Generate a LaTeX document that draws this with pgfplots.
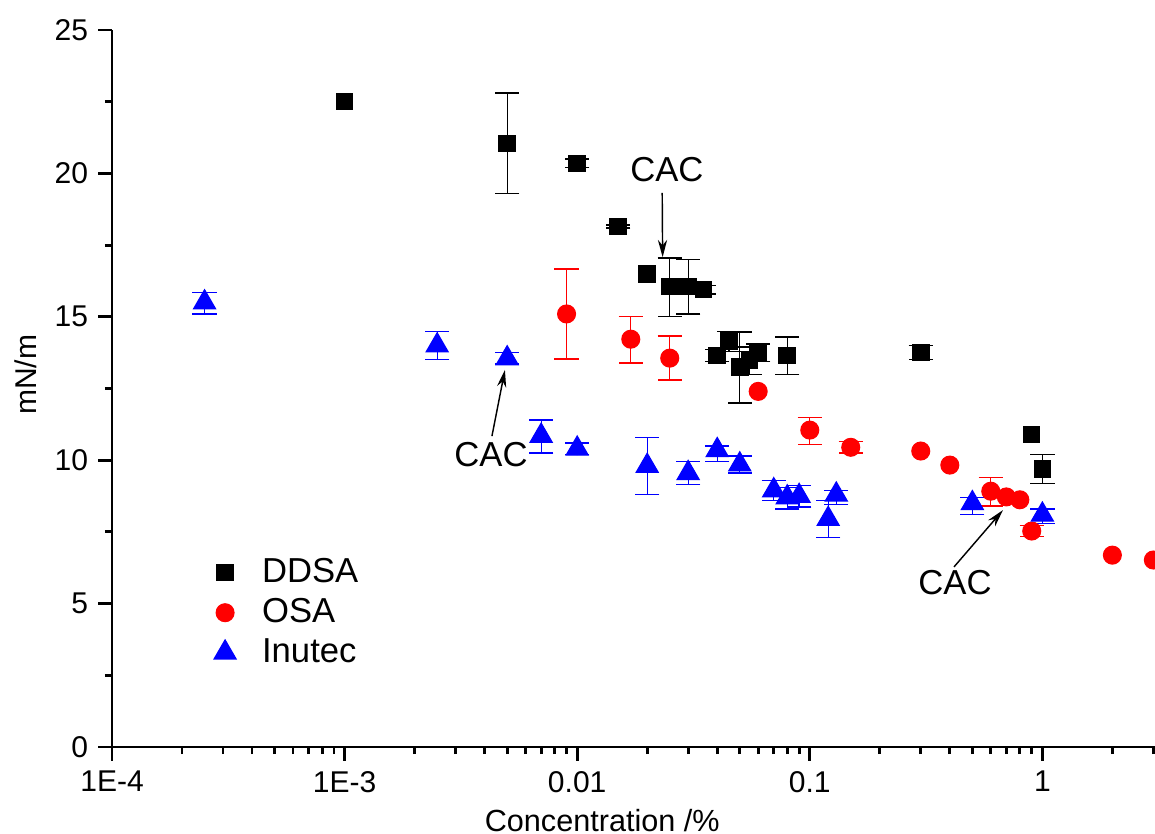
\documentclass[border=0pt]{standalone}
\usepackage{fontspec}
\setmainfont{Liberation Sans}
\usepackage{pgfplots}
\usepackage{pgfplotstable}
\pgfplotsset{compat=1.18}
\usetikzlibrary{arrows.meta}

% DDSA: all points
\pgfplotstableread{
x y
0.001 22.5
0.005 21.05
0.01 20.35
0.015 18.15
0.02 16.5
0.025 16.05
0.03 16.05
0.035 15.95
0.04 13.65
0.045 14.15
0.05 13.25
0.055 13.5
0.06 13.75
0.08 13.65
0.3 13.75
0.9 10.9
1.0 9.7
}\ddsa
% DDSA: error bars
\pgfplotstableread{
x y ep em
0.005 21.05 1.75 1.75
0.01 20.35 0.15 0.15
0.015 18.15 0.05 0.05
0.025 16.05 1.0 1.05
0.03 16.05 0.95 0.95
0.035 15.95 0.15 0.15
0.04 13.65 0.2 0.2
0.045 14.15 0.35 0.35
0.05 13.25 1.22 1.25
0.055 13.5 0.45 0.5
0.06 13.75 0.3 0.3
0.08 13.65 0.65 0.65
0.3 13.75 0.25 0.25
1.0 9.7 0.5 0.5
}\ddsaerr

\pgfplotstableread{
x y
0.009 15.1
0.017 14.22
0.025 13.56
0.06 12.4
0.1 11.05
0.15 10.45
0.3 10.32
0.4 9.83
0.6 8.92
0.7 8.72
0.8 8.62
0.9 7.53
2 6.69
3 6.52
}\osa
\pgfplotstableread{
x y ep em
0.009 15.1 1.57 1.57
0.017 14.22 0.8 0.83
0.025 13.56 0.77 0.76
0.1 11.05 0.45 0.5
0.15 10.45 0.2 0.2
0.6 8.92 0.48 0.52
0.9 7.53 0.2 0.2
}\osaerr

\pgfplotstableread{
x y
0.00025 15.5
0.0025 14.0
0.005 13.55
0.007 10.85
0.01 10.4
0.02 9.8
0.03 9.55
0.04 10.35
0.05 9.85
0.07 8.95
0.08 8.7
0.09 8.75
0.12 7.95
0.13 8.8
0.5 8.5
1.0 8.1
}\inutec
\pgfplotstableread{
x y ep em
0.00025 15.5 0.35 0.4
0.0025 14.0 0.5 0.5
0.005 13.55 0.2 0.2
0.007 10.85 0.55 0.6
0.01 10.4 0.2 0.2
0.02 9.8 1.0 1.0
0.03 9.55 0.4 0.4
0.04 10.35 0.15 0.4
0.05 9.85 0.3 0.3
0.07 8.95 0.35 0.35
0.08 8.7 0.35 0.4
0.09 8.75 0.38 0.38
0.12 7.95 0.65 0.65
0.13 8.8 0.15 0.35
0.5 8.5 0.2 0.4
1.0 8.1 0.2 0.3
}\inutecerr

\begin{document}
\begin{tikzpicture}
\begin{axis}[
  name=ax,
  scale only axis,
  width=361.2pt, height=248.3pt,
  xmode=log,
  xmin=1e-4, xmax=3.05,
  ymin=0, ymax=25,
  axis x line*=bottom,
  axis y line*=left,
  axis line style={line width=1pt, black},
  every tick/.style={line width=1pt, black},
  tick align=outside,
  major tick length=4.8pt,
  minor tick length=2.5pt,
  xtick={1e-4,1e-3,0.01,0.1,1},
  xticklabels={1E-4,1E-3,0.01,0.1,1},
  minor xtick={2e-4,3e-4,4e-4,5e-4,6e-4,7e-4,8e-4,9e-4,
               2e-3,3e-3,4e-3,5e-3,6e-3,7e-3,8e-3,9e-3,
               0.02,0.03,0.04,0.05,0.06,0.07,0.08,0.09,
               0.2,0.3,0.4,0.5,0.6,0.7,0.8,0.9,2,3},
  ytick={0,5,10,15,20,25},
  minor ytick={2.5,7.5,12.5,17.5,22.5},
  /pgf/number format/assume math mode=true,
  ticklabel style={font=\fontsize{10.4}{12}\selectfont},
  xlabel={Concentration /\%},
  ylabel={mN/m},
  xlabel style={font=\fontsize{10.6}{12}\selectfont, at={(axis description cs:0.47,-0.102)}, anchor=center},
  ylabel style={font=\fontsize{10.4}{12}\selectfont, at={(axis description cs:-0.0825,0.519)}, anchor=center},
  clip marker paths=true,
  legend style={at={(axis description cs:0.089,0.28)}, anchor=north west, draw=none, fill=none,
    font=\fontsize{12}{13.7}\selectfont, row sep=0pt,
    /tikz/every odd column/.append style={column sep=7pt}},
  legend cell align=left,
]
% error bars
\addplot[forget plot, only marks, mark=none, black,
  error bars/.cd, y dir=both, y explicit,
  error bar style={line width=0.45pt},
  error mark options={line width=0.45pt, mark size=4.2pt, rotate=90}]
  table[x=x, y=y, y error plus=ep, y error minus=em] {\ddsaerr};
\addplot[forget plot, only marks, mark=none, red,
  error bars/.cd, y dir=both, y explicit,
  error bar style={line width=0.45pt},
  error mark options={line width=0.45pt, mark size=4.2pt, rotate=90}]
  table[x=x, y=y, y error plus=ep, y error minus=em] {\osaerr};
\addplot[forget plot, only marks, mark=none, blue,
  error bars/.cd, y dir=both, y explicit,
  error bar style={line width=0.45pt},
  error mark options={line width=0.45pt, mark size=4.2pt, rotate=90}]
  table[x=x, y=y, y error plus=ep, y error minus=em] {\inutecerr};
% markers
\addplot[only marks, mark=square*, black, mark size=2.83pt] table[x=x, y=y] {\ddsa};
\addlegendentry{DDSA}
\addplot[only marks, mark=*, red, mark size=3.1pt] table[x=x, y=y] {\osa};
\addlegendentry{OSA}
\addplot[only marks, mark=triangle*, blue, mark size=4.4pt] table[x=x, y=y] {\inutec};
\addlegendentry{Inutec}
% CAC annotations
\node[font=\fontsize{12}{14}\selectfont] at (axis cs:0.0243,20.12) {CAC};
\draw[-{Stealth[length=6pt,width=3.2pt]}, line width=0.5pt] (axis cs:0.0232,19.32) -- (axis cs:0.0233,17.08);
\node[font=\fontsize{12}{14}\selectfont] at (axis cs:0.00426,10.18) {CAC};
\draw[-{Stealth[length=6pt,width=3.2pt]}, line width=0.5pt] (axis cs:0.0043,10.84) -- (axis cs:0.00489,13.15);
\node[font=\fontsize{12}{14}\selectfont] at (axis cs:0.421,5.75) {CAC};
\draw[-{Stealth[length=6pt,width=3.2pt]}, line width=0.5pt] (axis cs:0.417,6.28) -- (axis cs:0.677,8.26);
\end{axis}
\pgfresetboundingbox
\path ([shift={(-38.8pt,-30.1pt)}]ax.south west) rectangle ([shift={(0pt,10.4pt)}]ax.north east);
\end{tikzpicture}
\end{document}
